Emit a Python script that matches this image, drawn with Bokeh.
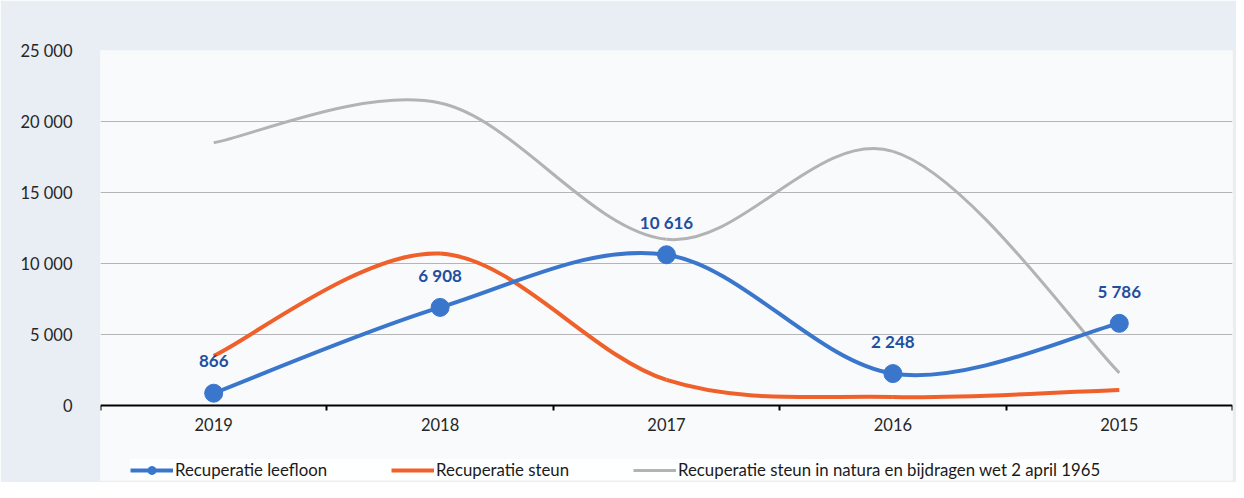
from bokeh.plotting import figure
from bokeh.models import (FixedTicker, Legend, LegendItem, ColumnDataSource,
                          Range1d, LinearAxis)
from bokeh.core.properties import value
from bokeh.embed import file_html
from bokeh.resources import INLINE

# ---- data ----
categories = ["2019", "2018", "2017", "2016", "2015"]
leefloon = [866, 6908, 10616, 2248, 5786]
steun = [3500, 10700, 1800, 600, 1100]
natura = [18500, 21300, 11700, 17900, 2300]
y_ticks = [0, 5000, 10000, 15000, 20000, 25000]
series_names = ["Recuperatie leefloon", "Recuperatie steun",
                "Recuperatie steun in natura en bijdragen wet 2 april 1965"]

FONT = "Lato"
xs = [i + 0.5 for i in range(len(categories))]
bounds = list(range(len(categories) + 1))

# layout (pixels)
W, H = 1236, 482
TOP, BOTTOM_PAD = 50, 2
ZERO_PX = 405            # pixel row of value 0
Y_MAX = y_ticks[-1]
frame_bottom = H - BOTTOM_PAD
y_start = -(frame_bottom - ZERO_PX) / (ZERO_PX - TOP) * Y_MAX


def fmt(v):
    return f"{v:,}".replace(",", " ")


def smooth_source(x, y):
    # cubic bezier segments (Excel-like smoothing) through the data points
    n = len(x)
    d = dict(x0=[], y0=[], x1=[], y1=[], cx0=[], cy0=[], cx1=[], cy1=[])
    for i in range(n - 1):
        im1 = max(i - 1, 0)
        ip2 = min(i + 2, n - 1)
        d["x0"].append(x[i]); d["y0"].append(y[i])
        d["x1"].append(x[i + 1]); d["y1"].append(y[i + 1])
        d["cx0"].append(x[i] + (x[i + 1] - x[im1]) / 6)
        d["cy0"].append(y[i] + (y[i + 1] - y[im1]) / 6)
        d["cx1"].append(x[i + 1] - (x[ip2] - x[i]) / 6)
        d["cy1"].append(y[i + 1] - (y[ip2] - y[i]) / 6)
    return ColumnDataSource(d)


p = figure(width=W, height=H, output_backend="svg", toolbar_location=None,
           x_range=Range1d(0, len(categories)), y_range=Range1d(y_start, Y_MAX),
           x_axis_location=None,
           min_border_left=100, min_border_right=4, min_border_top=TOP,
           min_border_bottom=BOTTOM_PAD)
p.border_fill_color = "#e8eef4"
p.background_fill_color = "#f8fafc"
p.outline_line_color = None

# grid
p.xgrid.visible = False
p.ygrid.ticker = FixedTicker(ticks=y_ticks[1:-1])
p.ygrid.grid_line_color = "#b5b5b5"
p.ygrid.grid_line_width = 1

# y axis
p.yaxis.ticker = FixedTicker(ticks=y_ticks)
p.yaxis.major_label_overrides = {t: fmt(t) for t in y_ticks}
p.yaxis.axis_line_color = None
p.yaxis.major_tick_line_color = None
p.yaxis.minor_tick_line_color = None
p.yaxis.major_label_standoff = 22
p.yaxis.major_label_text_font = FONT
p.yaxis.major_label_text_font_size = "16.5px"
p.yaxis.major_label_text_color = "#262626"

# x axis: drawn at value 0
xaxis = LinearAxis(fixed_location=0)
xaxis.ticker = FixedTicker(ticks=xs, minor_ticks=bounds)
xaxis.major_label_overrides = {x: c for x, c in zip(xs, categories)}
xaxis.axis_line_color = "black"
xaxis.axis_line_width = 2
xaxis.major_tick_line_color = None
xaxis.major_tick_out = 0
xaxis.major_tick_in = 0
xaxis.minor_tick_line_color = "black"
xaxis.minor_tick_line_width = 2
xaxis.minor_tick_out = 0
xaxis.minor_tick_in = 5
xaxis.major_label_standoff = -25
xaxis.major_label_text_font = FONT
xaxis.major_label_text_font_size = "16.5px"
xaxis.major_label_text_color = "#262626"
p.add_layout(xaxis, "above")

BLUE = "#3a76cc"
ORANGE = "#f0602a"
GRAY = "#b3b3b3"

r_gray = p.bezier(source=smooth_source(xs, natura), x0="x0", y0="y0", x1="x1",
                  y1="y1", cx0="cx0", cy0="cy0", cx1="cx1", cy1="cy1",
                  line_color=GRAY, line_width=3)
r_orange = p.bezier(source=smooth_source(xs, steun), x0="x0", y0="y0", x1="x1",
                    y1="y1", cx0="cx0", cy0="cy0", cx1="cx1", cy1="cy1",
                    line_color=ORANGE, line_width=4)
r_blue = p.bezier(source=smooth_source(xs, leefloon), x0="x0", y0="y0", x1="x1",
                  y1="y1", cx0="cx0", cy0="cy0", cx1="cx1", cy1="cy1",
                  line_color=BLUE, line_width=4)
r_pts = p.scatter(xs, leefloon, size=18, fill_color=BLUE, line_color=BLUE)

p.text(x=xs, y=leefloon, text=[fmt(v) for v in leefloon],
       text_font=value(FONT), text_font_style="bold", text_font_size="17px",
       text_color="#1f4f9f", text_align="center", text_baseline="middle",
       y_offset=-32)

legend = Legend(items=[
    LegendItem(label=series_names[0], renderers=[r_blue, r_pts]),
    LegendItem(label=series_names[1], renderers=[r_orange]),
    LegendItem(label=series_names[2], renderers=[r_gray]),
], orientation="horizontal", location=(30, 0))
legend.glyph_width = 43
legend.glyph_height = 20
legend.label_standoff = 2
legend.spacing = 64
legend.padding = 5
legend.margin = 0
legend.label_text_font = FONT
legend.label_text_font_size = "16.8px"
legend.label_text_color = "#1a1a1a"
legend.background_fill_color = "white"
legend.background_fill_alpha = 0.85
legend.border_line_color = None
p.add_layout(legend, "center")

open("out.html", "w").write(file_html(p, INLINE))
